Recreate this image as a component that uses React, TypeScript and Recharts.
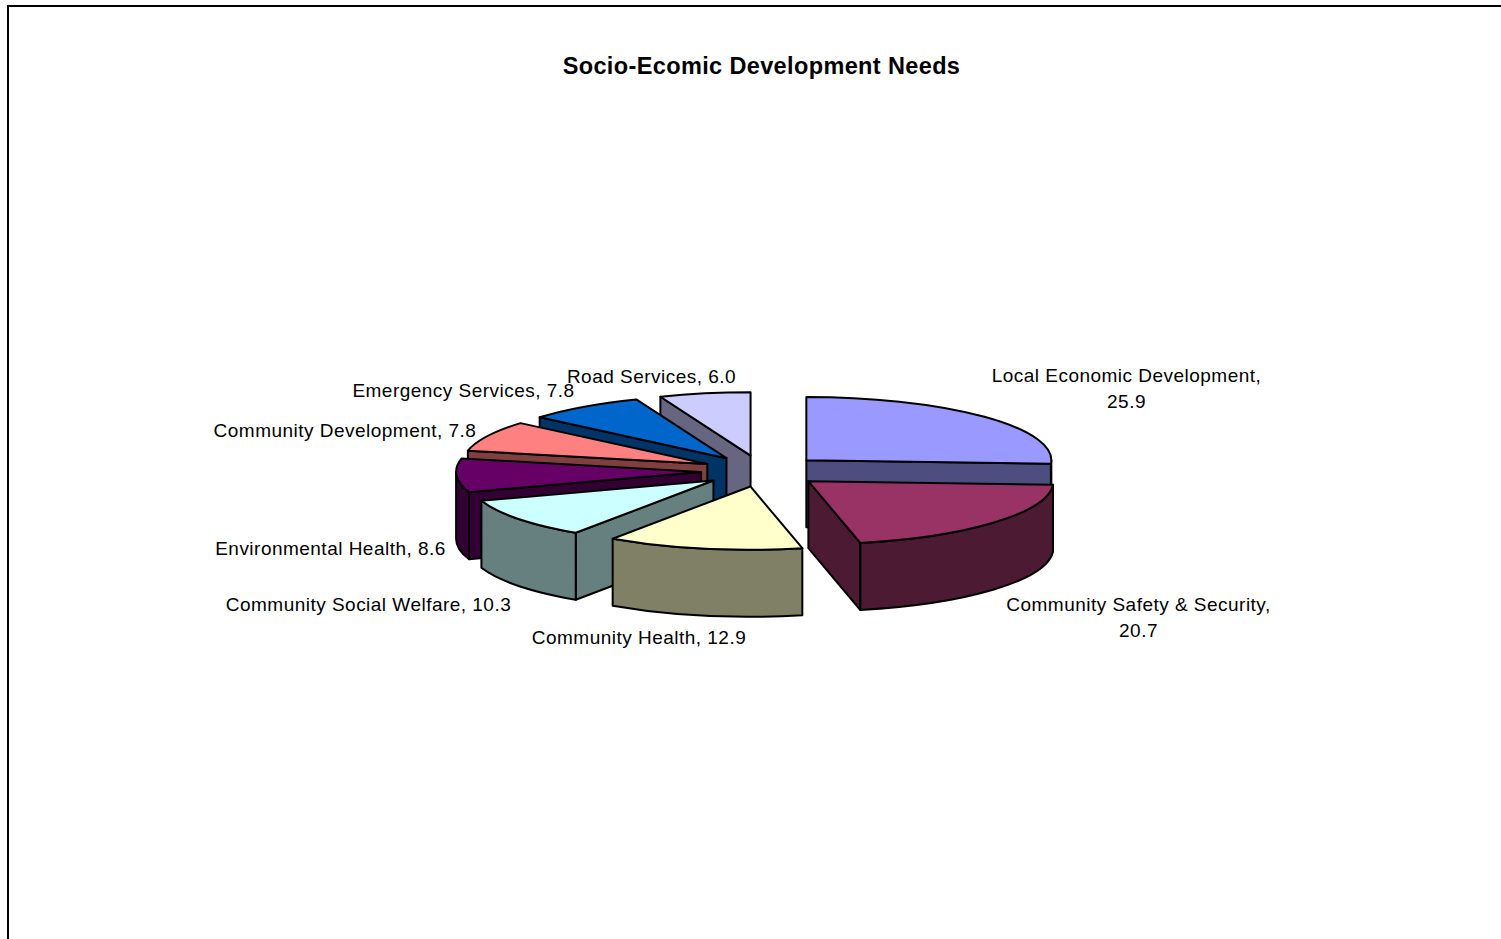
import React from "react";
import { PieChart, Pie } from "recharts";

const TITLE = "Socio-Ecomic Development Needs";
const CATEGORIES = [
  "Local Economic Development",
  "Community Safety & Security",
  "Community Health",
  "Community Social Welfare",
  "Environmental Health",
  "Community Development",
  "Emergency Services",
  "Road Services",
];
const VALUES = [25.9, 20.7, 12.9, 10.3, 8.6, 7.8, 7.8, 6.0];
const TOP_COLORS = ["#9999FF", "#993366", "#FFFFCC", "#CCFFFF", "#660066", "#FF8080", "#0066CC", "#CCCCFF"];
const SIDE_COLORS = ["#4D4D80", "#4D1A33", "#808066", "#668080", "#330033", "#804040", "#003366", "#666680"];

// Where each data label sits: centre x, first baseline, text lines
const LABEL_X = [1126.5, 1138.5, 639, 368.5, 330.5, 345, 463.5, 651.5];
const LABEL_Y = [382, 611, 644, 611, 555, 437, 397, 383];
const LABEL_BREAK = [true, true, false, false, false, false, false, false];

const WIDTH = 1501;
const HEIGHT = 939;
const FONT = "'Liberation Sans', Arial, sans-serif";

// Projection of the flat pie onto the tilted 3D look
const CX = 762;
const CY = 471;
const RADIUS = 245;
const TILT = 0.258;
const DEPTH = 67;
const EXPLODE = 61;

// Painter's order: the first slice sits at the back, then counter-clockwise
// round the pie so every slice covers the walls of the one behind it.
const DRAW_ORDER = [0, 7, 6, 5, 4, 3, 2, 1];
const rows = DRAW_ORDER.map((i) => ({ name: CATEGORIES[i], value: VALUES[i], index: i }));
const total = VALUES.reduce((a, b) => a + b, 0);
const START_ANGLE = 90 - (VALUES[0] / total) * 360;

const rad = (deg: number) => (deg * Math.PI) / 180;

function Slice3D(props: any) {
  const { cx, cy, outerRadius, startAngle, endAngle, payload } = props;
  const i = payload.index;
  // clockwise from 12 o'clock
  const a = ((90 - endAngle) % 360 + 360) % 360;
  const b = a + (endAngle - startAngle);
  const mid = rad((a + b) / 2);
  const ox = cx + EXPLODE * Math.sin(mid);
  const oy = cy - EXPLODE * TILT * Math.cos(mid);
  const rx = outerRadius;
  const ry = outerRadius * TILT;
  const px = (t: number) => ox + rx * Math.sin(rad(t));
  const py = (t: number) => oy - ry * Math.cos(rad(t));

  const common = { stroke: "#000", strokeWidth: 2, strokeLinejoin: "round" as const };
  const side = { ...common, fill: SIDE_COLORS[i] };
  const wall = (t: number) =>
    `M${ox},${oy}L${px(t)},${py(t)}L${px(t)},${py(t) + DEPTH}L${ox},${oy + DEPTH}Z`;

  const arcFrom = Math.max(a, 90);
  const arcTo = Math.min(b, 270);
  const large = b - a > 180 ? 1 : 0;

  return (
    <g>
      {Math.sin(rad(a)) < 0 && <path d={wall(a)} {...side} />}
      {Math.sin(rad(b)) > 0 && <path d={wall(b)} {...side} />}
      {arcTo > arcFrom && (
        <path
          d={`M${px(arcFrom)},${py(arcFrom)}A${rx},${ry} 0 0 1 ${px(arcTo)},${py(arcTo)}L${px(arcTo)},${py(arcTo) + DEPTH}A${rx},${ry} 0 0 0 ${px(arcFrom)},${py(arcFrom) + DEPTH}Z`}
          {...side}
        />
      )}
      <path
        d={`M${ox},${oy}L${px(a)},${py(a)}A${rx},${ry} 0 ${large} 1 ${px(b)},${py(b)}Z`}
        {...common}
        fill={TOP_COLORS[i]}
      />
    </g>
  );
}

function SliceLabel(props: any) {
  const i = props.payload?.index ?? props.index;
  const x = LABEL_X[i];
  const y = LABEL_Y[i];
  const style = { fontFamily: FONT, fontSize: 19, letterSpacing: 0.48, fill: "#000" };
  const value = VALUES[i].toFixed(1);
  if (LABEL_BREAK[i]) {
    return (
      <text x={x} y={y} textAnchor="middle" style={style}>
        <tspan x={x}>{CATEGORIES[i]},</tspan>
        <tspan x={x} dy={25.5}>{value}</tspan>
      </text>
    );
  }
  return (
    <text x={x} y={y} textAnchor="middle" style={style}>
      {`${CATEGORIES[i]}, ${value}`}
    </text>
  );
}

export default function App() {
  return (
    <div style={{ position: "absolute", left: 0, top: 0, width: WIDTH, height: HEIGHT, overflow: "hidden", background: "#fff" }}>
      <PieChart width={WIDTH} height={HEIGHT} margin={{ top: 0, right: 0, bottom: 0, left: 0 }}>
        <rect x={8} y={6} width={WIDTH + 20} height={HEIGHT + 20} fill="#fff" stroke="#000" strokeWidth={2} />
        <text x={761.5} y={74} textAnchor="middle" style={{ fontFamily: FONT, fontSize: 23.5, letterSpacing: 0.37, fontWeight: 700, fill: "#000" }}>
          {TITLE}
        </text>
        <Pie
          data={rows}
          dataKey="value"
          nameKey="name"
          cx={CX}
          cy={CY}
          innerRadius={0}
          outerRadius={RADIUS}
          startAngle={START_ANGLE}
          endAngle={START_ANGLE + 360}
          stroke="none"
          shape={Slice3D}
          label={SliceLabel}
          labelLine={false}
          isAnimationActive={false}
        />
      </PieChart>
    </div>
  );
}
